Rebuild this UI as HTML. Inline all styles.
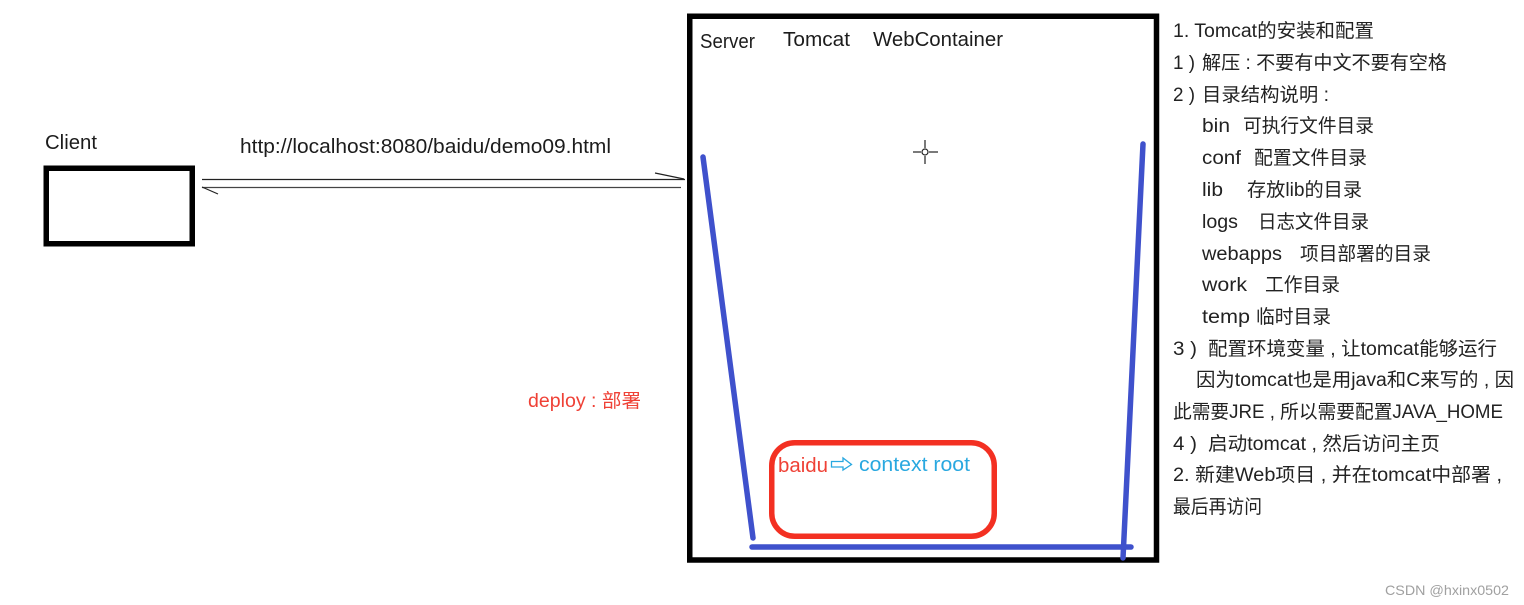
<!DOCTYPE html>
<html lang="zh">
<head>
<meta charset="utf-8">
<title>Tomcat diagram</title>
<style>
html,body{margin:0;padding:0;background:#fff;}
svg{display:block;filter:blur(0.35px);}
text{font-family:"Liberation Sans","Noto Sans CJK SC",sans-serif;fill:#222;font-size:19px;}
.d{font-size:20px;fill:#1c1c1c;}
</style>
</head>
<body>
<svg xmlns="http://www.w3.org/2000/svg" width="1524" height="605" viewBox="0 0 1524 605">
<rect width="1524" height="605" fill="#fff"/>

<!-- Client -->
<text class="d" x="45" y="149" textLength="52" lengthAdjust="spacingAndGlyphs">Client</text>
<rect x="46.25" y="168.25" width="146" height="75.5" fill="none" stroke="#000" stroke-width="5.5"/>
<text class="d" x="240" y="153" textLength="371" lengthAdjust="spacingAndGlyphs">http://localhost:8080/baidu/demo09.html</text>

<!-- connectors -->
<line x1="202" y1="179.5" x2="685" y2="179.5" stroke="#222" stroke-width="1.2"/>
<line x1="202" y1="187.5" x2="681" y2="187.5" stroke="#444" stroke-width="1.2"/>
<line x1="655" y1="173" x2="684" y2="179" stroke="#222" stroke-width="1.2"/>
<line x1="202" y1="187" x2="218" y2="194" stroke="#222" stroke-width="1.2"/>

<!-- Server box -->
<rect x="689.75" y="16.25" width="466.75" height="543.75" fill="none" stroke="#000" stroke-width="5.5"/>
<text class="d" x="700" y="48" textLength="55" lengthAdjust="spacingAndGlyphs">Server</text>
<text class="d" x="783" y="46" textLength="67" lengthAdjust="spacingAndGlyphs">Tomcat</text>
<text class="d" x="873" y="46" textLength="130" lengthAdjust="spacingAndGlyphs">WebContainer</text>

<!-- crosshair -->
<g stroke="#222" stroke-width="1.2" fill="none">
<line x1="925" y1="140" x2="925" y2="148"/>
<line x1="925" y1="156" x2="925" y2="164"/>
<line x1="913" y1="152" x2="921" y2="152"/>
<line x1="929" y1="152" x2="938" y2="152"/>
<circle cx="925" cy="152" r="3"/>
</g>

<!-- blue bucket -->
<g stroke="#3f51cc" stroke-width="5.5" stroke-linecap="round" fill="none">
<line x1="703" y1="157" x2="753" y2="538"/>
<line x1="1143" y1="144" x2="1123" y2="558"/>
<line x1="752" y1="547" x2="1131" y2="547"/>
</g>

<!-- context root -->
<rect x="771.75" y="442.75" width="222.5" height="93.5" rx="23" ry="23" fill="none" stroke="#f33022" stroke-width="5.5"/>
<text x="778" y="472" style="font-size:20px;fill:#ef4136" textLength="50" lengthAdjust="spacingAndGlyphs">baidu</text>
<path d="M831.5 461.5H843V458L851.5 464.5L843 470V467H831.5Z" fill="none" stroke="#29a8e0" stroke-width="1.3"/>
<text x="859" y="471" style="font-size:20px;fill:#29a8e0" textLength="111" lengthAdjust="spacingAndGlyphs">context root</text>

<text x="528" y="407" style="font-size:19px;fill:#ef4136" textLength="113" lengthAdjust="spacingAndGlyphs">deploy : 部署</text>

<!-- notes -->
<text x="1173" y="37" textLength="201" lengthAdjust="spacingAndGlyphs">1. Tomcat的安装和配置</text>
<text x="1173" y="69" textLength="22" lengthAdjust="spacingAndGlyphs">1 )</text>
<text x="1202" y="69" textLength="245" lengthAdjust="spacingAndGlyphs">解压 : 不要有中文不要有空格</text>
<text x="1173" y="101" textLength="22" lengthAdjust="spacingAndGlyphs">2 )</text>
<text x="1202" y="101" textLength="127" lengthAdjust="spacingAndGlyphs">目录结构说明 :</text>

<text x="1202" y="132" textLength="28" lengthAdjust="spacingAndGlyphs">bin</text>
<text x="1243" y="132" textLength="131" lengthAdjust="spacingAndGlyphs">可执行文件目录</text>
<text x="1202" y="164" textLength="39" lengthAdjust="spacingAndGlyphs">conf</text>
<text x="1254" y="164" textLength="113" lengthAdjust="spacingAndGlyphs">配置文件目录</text>
<text x="1202" y="196" textLength="21" lengthAdjust="spacingAndGlyphs">lib</text>
<text x="1247" y="196" textLength="115" lengthAdjust="spacingAndGlyphs">存放lib的目录</text>
<text x="1202" y="228" textLength="36" lengthAdjust="spacingAndGlyphs">logs</text>
<text x="1258" y="228" textLength="111" lengthAdjust="spacingAndGlyphs">日志文件目录</text>
<text x="1202" y="260" textLength="80" lengthAdjust="spacingAndGlyphs">webapps</text>
<text x="1300" y="260" textLength="131" lengthAdjust="spacingAndGlyphs">项目部署的目录</text>
<text x="1202" y="291" textLength="45" lengthAdjust="spacingAndGlyphs">work</text>
<text x="1265" y="291" textLength="75" lengthAdjust="spacingAndGlyphs">工作目录</text>
<text x="1202" y="323" textLength="48" lengthAdjust="spacingAndGlyphs">temp</text>
<text x="1256" y="323" textLength="75" lengthAdjust="spacingAndGlyphs">临时目录</text>

<text x="1173" y="355" textLength="24" lengthAdjust="spacingAndGlyphs">3 )</text>
<text x="1208" y="355" textLength="289" lengthAdjust="spacingAndGlyphs">配置环境变量 , 让tomcat能够运行</text>
<text x="1196" y="386" textLength="318" lengthAdjust="spacingAndGlyphs">因为tomcat也是用java和C来写的 , 因</text>
<text x="1173" y="418" textLength="330" lengthAdjust="spacingAndGlyphs">此需要JRE , 所以需要配置JAVA_HOME</text>
<text x="1173" y="450" textLength="24" lengthAdjust="spacingAndGlyphs">4 )</text>
<text x="1208" y="450" textLength="232" lengthAdjust="spacingAndGlyphs">启动tomcat , 然后访问主页</text>
<text x="1173" y="481" textLength="329" lengthAdjust="spacingAndGlyphs">2. 新建Web项目 , 并在tomcat中部署 ,</text>
<text x="1173" y="513" textLength="89" lengthAdjust="spacingAndGlyphs">最后再访问</text>

<text x="1385" y="595" style="font-size:14px;fill:#a0a0a0" textLength="124" lengthAdjust="spacingAndGlyphs">CSDN @hxinx0502</text>
</svg>
</body>
</html>
